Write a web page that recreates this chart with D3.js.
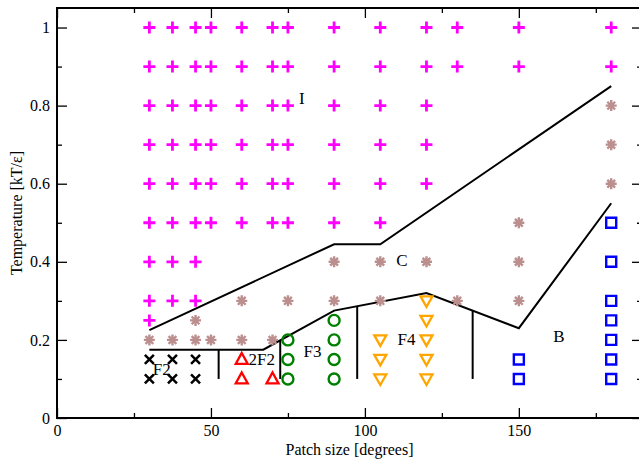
<!DOCTYPE html>
<html>
<head>
<meta charset="utf-8">
<script src="https://cdn.jsdelivr.net/npm/d3@7"></script>
<style>
  body { margin: 0; background: #fff; }
  svg { font-family: "Liberation Serif", "DejaVu Serif", serif; }
</style>
</head>
<body>
<div id="chart"></div>
<script>
// phase diagram data: [patch size, temperature]
const plusPts = [
  [30,1],[37.5,1],[45,1],[50,1],[60,1],[70,1],[75,1],[90,1],[105,1],[120,1],[130,1],[150,1],[180,1],
  [30,0.9],[37.5,0.9],[45,0.9],[50,0.9],[60,0.9],[70,0.9],[75,0.9],[90,0.9],[105,0.9],[120,0.9],[130,0.9],[150,0.9],[180,0.9],
  [30,0.8],[37.5,0.8],[45,0.8],[50,0.8],[60,0.8],[70,0.8],[75,0.8],[90,0.8],[105,0.8],[120,0.8],
  [30,0.7],[37.5,0.7],[45,0.7],[50,0.7],[60,0.7],[70,0.7],[75,0.7],[90,0.7],[105,0.7],[120,0.7],
  [30,0.6],[37.5,0.6],[45,0.6],[50,0.6],[60,0.6],[70,0.6],[75,0.6],[90,0.6],[105,0.6],[120,0.6],
  [30,0.5],[37.5,0.5],[45,0.5],[50,0.5],[60,0.5],[70,0.5],[75,0.5],[90,0.5],[105,0.5],
  [30,0.4],[37.5,0.4],[45,0.4],
  [30,0.3],[37.5,0.3],[45,0.3],
  [30,0.25]
];
const starPts = [
  [180,0.8],[180,0.7],[180,0.6],[150,0.5],
  [90,0.4],[105,0.4],[120,0.4],[150,0.4],
  [60,0.3],[75,0.3],[90,0.3],[105,0.3],[130,0.3],[150,0.3],
  [45,0.25],
  [30,0.2],[37.5,0.2],[45,0.2],[50,0.2],[60,0.2],[70,0.2]
];
const crossPts = [[30,0.15],[37.5,0.15],[45,0.15],[30,0.1],[37.5,0.1],[45,0.1]];
const triUpPts = [[60,0.15],[60,0.1],[70,0.1]];
const circlePts = [[75,0.2],[75,0.15],[75,0.1],[90,0.25],[90,0.2],[90,0.15],[90,0.1]];
const triDownPts = [[105,0.2],[105,0.15],[105,0.1],[120,0.3],[120,0.25],[120,0.2],[120,0.15],[120,0.1]];
const squarePts = [[150,0.15],[150,0.1],[180,0.5],[180,0.4],[180,0.3],[180,0.25],[180,0.2],[180,0.15],[180,0.1]];

// phase boundaries
const upperLine = [[30,0.225],[90,0.445],[105,0.445],[180,0.85]];
const lowerLine = [[30,0.175],[67,0.175],[90,0.275],[120,0.32],[150,0.23],[180,0.55]];
const dividers = [[52.5,0.175,0.1],[72.5,0.2,0.1],[97.5,0.287,0.1],[135,0.275,0.1]];

const regionLabels = [
  ["I",79.5,0.805],["C",112,0.39],["F2",34,0.11],["2F2",66.5,0.136],
  ["F3",83,0.155],["F4",113.5,0.187],["B",163,0.195]
];

const xMajor = [0,50,100,150];
const xMinor = [25,75,125,175];
const yMajor = [0,0.2,0.4,0.6,0.8,1];
const yMinor = [0.1,0.3,0.5,0.7,0.9];

const W = 639, H = 460;
const margin = {left: 57, top: 8, right: -3, bottom: 42};
const x = d3.scaleLinear().domain([0,190]).range([margin.left, W - margin.right]);
const y = d3.scaleLinear().domain([0,1.05]).range([H - margin.bottom, margin.top]);

const svg = d3.select("#chart").append("svg")
  .attr("width", W)
  .attr("height", H);

// axes with inward ticks on all four sides
function addAxis(axis, transform, values, size, labels) {
  const g = svg.append("g")
    .attr("transform", transform)
    .call(axis.tickValues(values).tickSize(-size).tickPadding(7)
      .tickFormat(labels ? d3.format("~g") : ""));
  g.select(".domain").remove();
  g.selectAll("line").attr("stroke", "#000").attr("stroke-width", 1.3);
  g.selectAll("text").attr("font-size", 16).attr("fill", "#000")
    .attr("font-family", "Liberation Serif, serif");
  return g;
}
const bottomY = y(0), topY = y(1.05), leftX = x(0), rightX = x(190);
addAxis(d3.axisBottom(x), `translate(0,${bottomY})`, xMajor, 10, true);
addAxis(d3.axisBottom(x), `translate(0,${bottomY})`, xMinor, 5, false);
addAxis(d3.axisTop(x), `translate(0,${topY})`, xMajor, 10, false);
addAxis(d3.axisTop(x), `translate(0,${topY})`, xMinor, 5, false);
addAxis(d3.axisLeft(y), `translate(${leftX},0)`, yMajor, 10, true);
addAxis(d3.axisLeft(y), `translate(${leftX},0)`, yMinor, 5, false);
addAxis(d3.axisRight(y), `translate(${rightX},0)`, yMajor, 10, false);
addAxis(d3.axisRight(y), `translate(${rightX},0)`, yMinor, 5, false);

svg.append("rect")
  .attr("x", leftX).attr("y", topY)
  .attr("width", rightX - leftX).attr("height", bottomY - topY)
  .attr("fill", "none").attr("stroke", "#000").attr("stroke-width", 2);

// boundaries
const line = d3.line().x(d => x(d[0])).y(d => y(d[1]));
[upperLine, lowerLine].forEach(pts => {
  svg.append("path").attr("d", line(pts))
    .attr("fill", "none").attr("stroke", "#000").attr("stroke-width", 2);
});
svg.selectAll(".divider").data(dividers).enter().append("line")
  .attr("x1", d => x(d[0])).attr("x2", d => x(d[0]))
  .attr("y1", d => y(d[1])).attr("y2", d => y(d[2]))
  .attr("stroke", "#000").attr("stroke-width", 2);

// markers
function drawPts(pts, pathStr, color, width, fill) {
  svg.append("g").selectAll("path").data(pts).enter().append("path")
    .attr("transform", d => `translate(${x(d[0])},${y(d[1])})`)
    .attr("d", pathStr)
    .attr("fill", fill || "none")
    .attr("stroke", color)
    .attr("stroke-width", width);
}
drawPts(plusPts, "M-6,0H6M0,-6V6", "#ff00ff", 2.8);
const starPath = d3.range(4).map(i => {
  const a = i * Math.PI / 4, r = 5.5;
  return `M${-r*Math.cos(a)},${-r*Math.sin(a)}L${r*Math.cos(a)},${r*Math.sin(a)}`;
}).join("");
drawPts(starPts, starPath, "#bc8f8f", 2.4);
drawPts(crossPts, "M-4.5,-4.5L4.5,4.5M-4.5,4.5L4.5,-4.5", "#000", 2.5);
drawPts(triUpPts, "M0,-6.5L6,4.5L-6,4.5Z", "#ff0000", 2.3);
drawPts(circlePts, d3.arc()({innerRadius: 0, outerRadius: 5.5, startAngle: 0, endAngle: 2 * Math.PI}), "#008000", 2.4);
drawPts(triDownPts, "M-6,-4.5L6,-4.5L0,6Z", "#ffa500", 2.3);
drawPts(squarePts, "M-5,-5H5V5H-5Z", "#0000ff", 2.4);

// region labels
svg.append("g").selectAll("text").data(regionLabels).enter().append("text")
  .attr("x", d => x(d[1])).attr("y", d => y(d[2]))
  .attr("text-anchor", "middle")
  .attr("font-size", 17)
  .text(d => d[0]);

// axis titles
svg.append("text")
  .attr("x", (leftX + rightX) / 2).attr("y", 455)
  .attr("text-anchor", "middle").attr("font-size", 16)
  .text("Patch size [degrees]");
svg.append("text")
  .attr("transform", `translate(22,${(topY + bottomY) / 2}) rotate(-90)`)
  .attr("text-anchor", "middle").attr("font-size", 16)
  .text("Temperature [kT/ε]");
</script>
</body>
</html>
